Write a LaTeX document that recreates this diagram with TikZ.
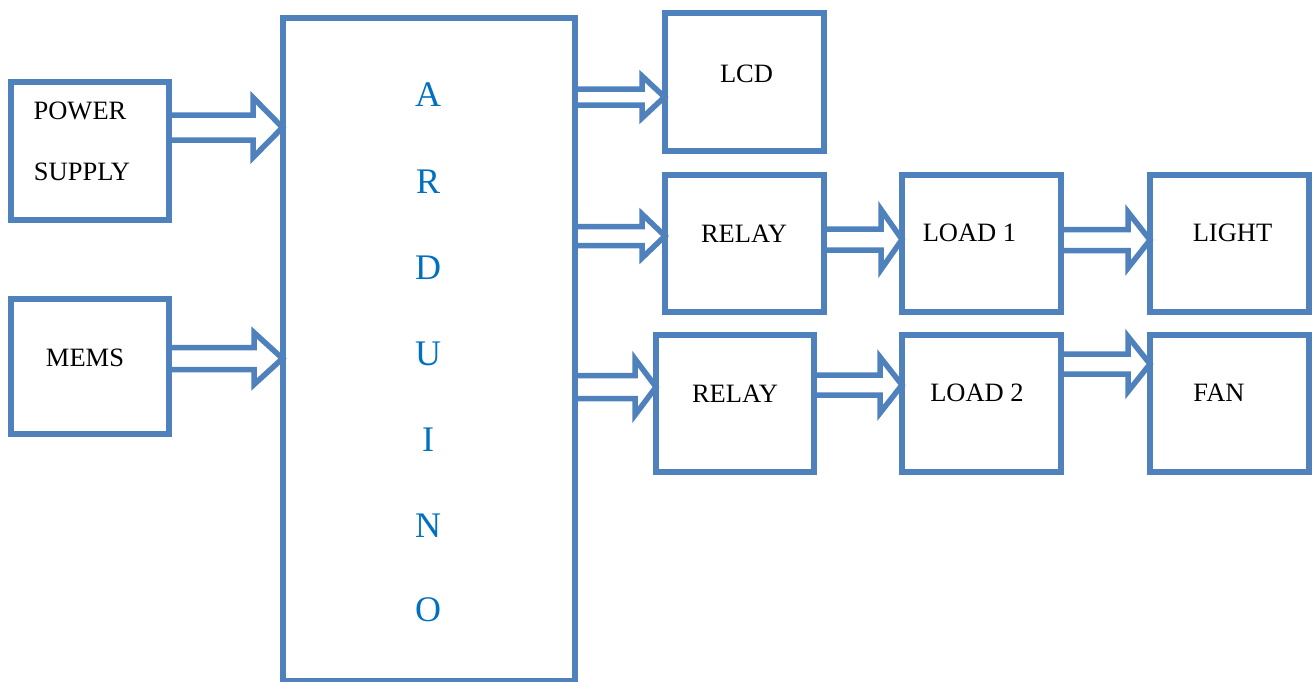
\documentclass[tikz,border=0pt]{standalone}
\usepackage{fontspec}
\setmainfont{Liberation Serif}
\usetikzlibrary{calc}
\definecolor{boxblue}{HTML}{4F81BD}
\definecolor{letterblue}{HTML}{0070C0}
\tikzset{
  blk/.style={draw=boxblue, line width=6pt, inner sep=0pt, outer sep=0pt, fill=none},
  arr/.style={draw=boxblue, line width=5.5pt, miter limit=10},
  txt/.style={inner sep=0pt, font=\fontsize{26.5}{26.5}\selectfont, text=black},
  ltr/.style={inner sep=0pt, font=\fontsize{36}{36}\selectfont, text=letterblue}
}
% #1 source, #2 target, #3 y, #4 shaft half width, #5 head half height, #6 head length
\newcommand\harrow[6]{%
  \draw[arr] ($(#1.east|-0,#3)+(0,-#4)$) -- ($(#2.west|-0,#3)+(-#6,-#4)$)
    -- ($(#2.west|-0,#3)+(-#6,-#5)$) -- (#2.west|-0,#3)
    -- ($(#2.west|-0,#3)+(-#6,#5)$) -- ($(#2.west|-0,#3)+(-#6,#4)$)
    -- ($(#1.east|-0,#3)+(0,#4)$);}
\begin{document}
\begin{tikzpicture}[x=1pt,y=-1pt]
\useasboundingbox (0,0) rectangle (1313,681);
\clip (0,0) rectangle (1313,681);
% blocks
\node[blk, minimum width=158.5pt, minimum height=138.5pt] (ps) at (89.75,150.75) {};
\node[blk, minimum width=158.5pt, minimum height=135pt] (mems) at (89.75,366.5) {};
\node[blk, minimum width=292pt, minimum height=663.5pt] (ard) at (428.5,349.25) {};
\node[blk, minimum width=159pt, minimum height=138pt] (lcd) at (744,81.5) {};
\node[blk, minimum width=158.5pt, minimum height=137pt] (rel1) at (744.25,243.5) {};
\node[blk, minimum width=157.5pt, minimum height=137pt] (rel2) at (734.75,403) {};
\node[blk, minimum width=158.5pt, minimum height=137.5pt] (load1) at (981.25,243.25) {};
\node[blk, minimum width=158.5pt, minimum height=137pt] (load2) at (981.25,403) {};
\node[blk, minimum width=159pt, minimum height=137.5pt] (light) at (1229.5,243.25) {};
\node[blk, minimum width=159pt, minimum height=137pt] (fan) at (1229.5,403) {};
% texts
\node[txt] (tpow) at (80,110.5) {POWER};
\node[txt] (tsup) at (82,172) {SUPPLY};
\node[txt] (tmems) at (85,357.5) {MEMS};
\node[txt] (tlcd) at (746.5,73.5) {LCD};
\node[txt] (trel1) at (744,233.5) {RELAY};
\node[txt] (trel2) at (735,394) {RELAY};
\node[txt] (tload1) at (969.5,233) {LOAD 1};
\node[txt] (tload2) at (977,393) {LOAD 2};
\node[txt] (tlight) at (1232.5,233) {LIGHT};
\node[txt] (tfan) at (1219,393) {FAN};
% ARDUINO letters
\node[ltr] (la) at (428,95) {A};
\node[ltr] (lr) at (428,182) {R};
\node[ltr] (ld) at (428,268) {D};
\node[ltr] (lu) at (428,354) {U};
\node[ltr] (li) at (428,440) {I};
\node[ltr] (ln) at (428,526) {N};
\node[ltr] (lo) at (428,610) {O};
% arrows
\harrow{ps}{ard}{127.5}{12.5}{30}{29.5}
\harrow{mems}{ard}{358.5}{11}{26}{28.5}
\harrow{ard}{lcd}{97}{8}{21}{22.5}
\harrow{ard}{rel1}{236}{9.5}{22}{23}
\harrow{ard}{rel2}{387}{11.5}{28}{21}
\harrow{rel1}{load1}{239.5}{10.5}{30}{21}
\harrow{load1}{light}{240}{10.5}{28}{22}
\harrow{rel2}{load2}{385}{10}{28}{22}
\harrow{load2}{fan}{364}{10}{27.5}{22}
\end{tikzpicture}
\end{document}
